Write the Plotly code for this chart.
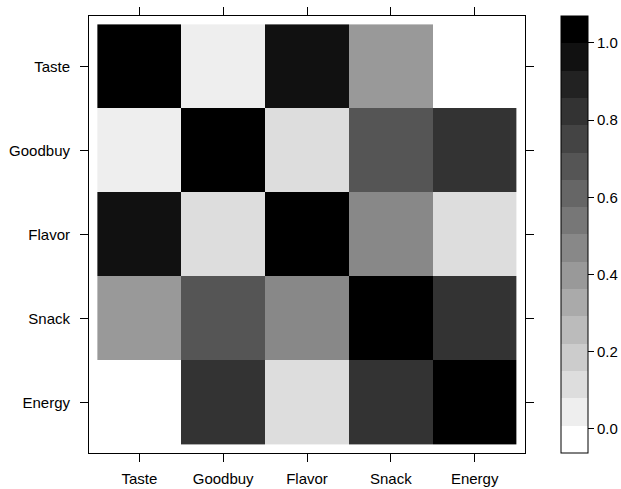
import plotly.graph_objects as go

# Data
variables = ["Taste", "Goodbuy", "Flavor", "Snack", "Energy"]
taste   = [1.00, 0.05, 0.96, 0.40, 0.00]
goodbuy = [0.05, 1.00, 0.12, 0.67, 0.82]
flavor  = [0.96, 0.12, 1.00, 0.47, 0.12]
snack   = [0.40, 0.67, 0.47, 1.00, 0.80]
energy  = [0.00, 0.82, 0.12, 0.80, 1.00]
colorbar_ticks = [0.0, 0.2, 0.4, 0.6, 0.8, 1.0]

z = [taste, goodbuy, flavor, snack, energy]

# stepped grey colour scale (16 levels, white -> black)
zmin, zmax = -0.0625, 1.0695
n = 16
greys = [255 - 17 * i for i in range(n)]
colorscale = []
for i, g in enumerate(greys):
    c = f"rgb({g},{g},{g})"
    colorscale.append([i / n, c])
    colorscale.append([(i + 1) / n, c])

idx = list(range(len(variables)))
font = dict(family="Liberation Sans, Arial", size=15, color="black")

fig = go.Figure(go.Heatmap(
    z=z, x=idx, y=idx,
    zmin=zmin, zmax=zmax,
    colorscale=colorscale,
    xgap=0, ygap=0,
    colorbar=dict(
        x=1.0825, xanchor="left", xref="paper",
        y=0.5, yanchor="middle", len=1.0, lenmode="fraction",
        thickness=27, thicknessmode="pixels",
        outlinecolor="black", outlinewidth=1,
        tickvals=colorbar_ticks, tickformat=".1f",
        ticks="outside", ticklen=6, tickcolor="black",
        tickfont=font,
        xpad=0, ypad=0,
    ),
))

axis_common = dict(
    tickmode="array", tickvals=idx, ticktext=variables,
    ticks="outside", ticklen=8, tickcolor="black", tickwidth=1,
    showline=True, linecolor="black", linewidth=1, mirror="ticks",
    showgrid=False, zeroline=False, automargin=False,
    tickfont=font,
)

fig.update_xaxes(range=[-0.6, 4.6], ticklabelstandoff=4, **axis_common)
fig.update_yaxes(range=[4.6, -0.6], ticklabelstandoff=7, **axis_common)

fig.update_layout(
    width=621, height=489,
    margin=dict(l=89, r=96, t=16, b=36, autoexpand=False),
    plot_bgcolor="white", paper_bgcolor="white",
)

fig.write_html("out.html")
